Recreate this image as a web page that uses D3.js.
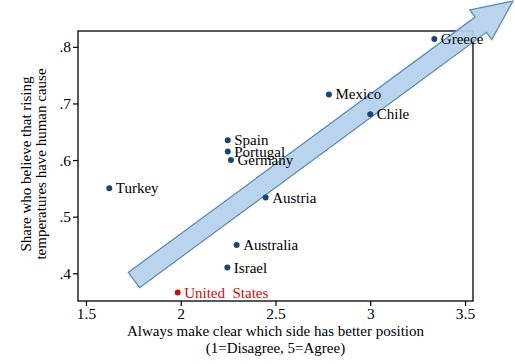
<!DOCTYPE html>
<html><head><meta charset="utf-8">
<script src="https://cdn.jsdelivr.net/npm/d3@7"></script>
<style>body{margin:0;background:#fff}svg{display:block}text{font-family:"Liberation Serif","Times New Roman",serif}</style>
</head><body><svg id="c" width="515" height="364"></svg>
<script>
const countries = ["Greece","Mexico","Chile","Spain","Portugal","Germany","Turkey","Austria","Australia","Israel","United  States"];
const xValues = [3.338,2.782,3.0,2.248,2.248,2.265,1.623,2.448,2.295,2.246,1.984];
const yValues = [0.814,0.716,0.681,0.635,0.615,0.600,0.550,0.534,0.450,0.410,0.366];
const highlight = [false,false,false,false,false,false,false,false,false,false,true];
const xTicks = [1.5,2,2.5,3,3.5];
const yTicks = [0.4,0.5,0.6,0.7,0.8];
const yTickLabels = [".4",".5",".6",".7",".8"];
const arrowFrom = [1.753,0.388];
const arrowTo = [3.753,0.881];

const svg = d3.select("#c");
const L=78,R=473,T=31,B=301;
const x = d3.scaleLinear().domain([1.458,3.542]).range([L,R]);
const y = d3.scaleLinear().domain([0.351,0.828]).range([B,T]);

// frame
svg.append("rect").attr("x",L).attr("y",T).attr("width",R-L).attr("height",B-T)
  .attr("fill","#fff").attr("stroke","#000").attr("stroke-width",1.3);

// axes
const xa = svg.append("g").attr("transform",`translate(0,${B})`)
  .call(d3.axisBottom(x).tickValues(xTicks).tickSize(5).tickPadding(2).tickFormat(d3.format("")));
const ya = svg.append("g").attr("transform",`translate(${L},0)`)
  .call(d3.axisLeft(y).tickValues(yTicks).tickSize(5).tickPadding(2).tickFormat((d,i)=>yTickLabels[i]));
[xa,ya].forEach(g=>{g.select(".domain").remove();
  g.selectAll("line").attr("stroke","#000").attr("stroke-width",1.2);
  g.selectAll("text").attr("font-size","15.5px").attr("fill","#000").style("font-family","Liberation Serif");});

// arrow
const p0=[x(arrowFrom[0]),y(arrowFrom[1])], p1=[x(arrowTo[0]),y(arrowTo[1])];
const dx=p1[0]-p0[0], dy=p1[1]-p0[1], len=Math.hypot(dx,dy);
const ux=dx/len, uy=dy/len, nx=-uy, ny=ux;
const sw=9.5, hw=18.5, hl=40;
const bx=p1[0]-ux*hl, by=p1[1]-uy*hl;
const pts=[[p0[0]+nx*sw,p0[1]+ny*sw],[bx+nx*sw,by+ny*sw],[bx+nx*hw,by+ny*hw],p1,
  [bx-nx*hw,by-ny*hw],[bx-nx*sw,by-ny*sw],[p0[0]-nx*sw,p0[1]-ny*sw]];
svg.append("path").attr("d",d3.line()(pts)+"Z").attr("fill","#b4d0ec").attr("fill-opacity",0.92)
  .attr("stroke","#5a86b8").attr("stroke-width",1.2).attr("stroke-linejoin","miter");

// points
const data = countries.map((c,i)=>({c,x:xValues[i],y:yValues[i],h:highlight[i]}));
svg.append("g").selectAll("circle").data(data).join("circle")
  .attr("cx",d=>x(d.x)).attr("cy",d=>y(d.y)).attr("r",3)
  .attr("fill",d=>d.h?"#c40f0f":"#1a476f");
svg.append("g").selectAll("text").data(data).join("text")
  .attr("x",d=>x(d.x)+6.5).attr("y",d=>y(d.y)).attr("dy","0.34em")
  .attr("font-size","15px").attr("fill",d=>d.h?"#c40f0f":"#000")
  .style("white-space","pre").attr("xml:space","preserve").text(d=>d.c);

// axis titles
const xt = svg.append("text").attr("text-anchor","middle").attr("font-size","15px").attr("fill","#000");
xt.append("tspan").attr("x",(L+R)/2).attr("y",336).text("Always make clear which side has better position");
xt.append("tspan").attr("x",(L+R)/2).attr("y",353).text("(1=Disagree, 5=Agree)");
const yt = svg.append("text").attr("text-anchor","middle").attr("font-size","15px").attr("fill","#000")
  .attr("transform",`translate(0,164) rotate(-90)`);
yt.append("tspan").attr("x",0).attr("y",30.5).text("Share who believe that rising");
yt.append("tspan").attr("x",0).attr("y",46).text("temperatures have human cause");
</script></body></html>
